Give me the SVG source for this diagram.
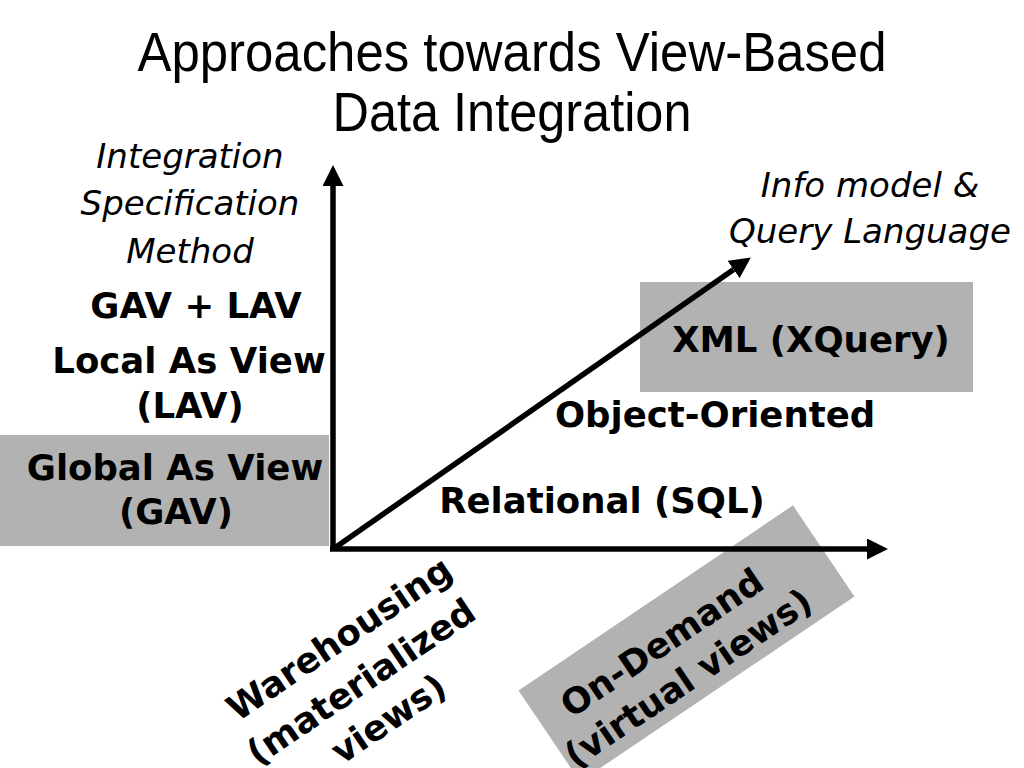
<svg xmlns="http://www.w3.org/2000/svg" width="1024" height="768" viewBox="0 0 1024 768">
<defs>
<style>
.title{font-family:"Liberation Sans",Arial,sans-serif;font-size:55px;fill:#000;text-anchor:middle}
.it{font-family:"DejaVu Sans",Verdana,sans-serif;font-style:italic;font-size:34px;fill:#000;text-anchor:middle}
.b{font-family:"DejaVu Sans",Verdana,sans-serif;font-weight:bold;font-size:35.5px;fill:#000;text-anchor:middle}
.box{fill:#b2b2b2}
.ax{stroke:#000;stroke-width:5.5;fill:none}
</style>
<marker id="ah" markerUnits="userSpaceOnUse" markerWidth="21" markerHeight="21" viewBox="0 0 20 20" refX="0" refY="10" orient="auto">
<path d="M0,0 L20,10 L0,20 z" fill="#000"/>
</marker>
</defs>
<rect width="1024" height="768" fill="#fff"/>
<g id="title">
<text class="title" x="512" y="71" textLength="749" lengthAdjust="spacingAndGlyphs">Approaches towards View-Based</text>
<text class="title" x="512" y="131" textLength="359" lengthAdjust="spacingAndGlyphs">Data Integration</text>
</g>
<g id="gav">
<rect class="box" x="0" y="435" width="329" height="111"/>
<text class="b" x="175" y="480">Global As View</text>
<text class="b" x="176" y="524">(GAV)</text>
</g>
<g id="xml">
<rect class="box" x="640" y="282" width="333" height="110"/>
<text class="b" x="811" y="352">XML (XQuery)</text>
</g>
<g id="ondemand" transform="translate(686.5,643.5) rotate(-34)">
<rect class="box" x="-165.5" y="-55" width="331" height="110"/>
<text class="b" x="-20" y="-2">On-Demand</text>
<text class="b" x="-18" y="42">(virtual views)</text>
</g>
<g id="connectors">
<line class="ax" x1="333" y1="551" x2="333" y2="186" marker-end="url(#ah)"/>
<line class="ax" x1="330" y1="549" x2="867" y2="549" marker-end="url(#ah)"/>
<line class="ax" x1="336" y1="547" x2="733.6" y2="269.5" marker-end="url(#ah)"/>
</g>
<g id="y-axis-label">
<text class="it" x="190" y="168">Integration</text>
<text class="it" x="190" y="215">Specification</text>
<text class="it" x="190" y="263">Method</text>
</g>
<g id="z-axis-label">
<text class="it" x="870" y="197">Info model &amp;</text>
<text class="it" x="870" y="243">Query Language</text>
</g>
<g id="gavlav"><text class="b" x="196" y="318">GAV + LAV</text></g>
<g id="lav">
<text class="b" x="189" y="373">Local As View</text>
<text class="b" x="190" y="418">(LAV)</text>
</g>
<g id="oo"><text class="b" x="715" y="427">Object-Oriented</text></g>
<g id="relational"><text class="b" x="602" y="513">Relational (SQL)</text></g>
<g id="warehousing" transform="translate(368,692) rotate(-34)">
<text class="b" x="6" y="-48">Warehousing</text>
<text class="b" x="0" y="0">(materialized</text>
<text class="b" x="2" y="46">views)</text>
</g>
</svg>
